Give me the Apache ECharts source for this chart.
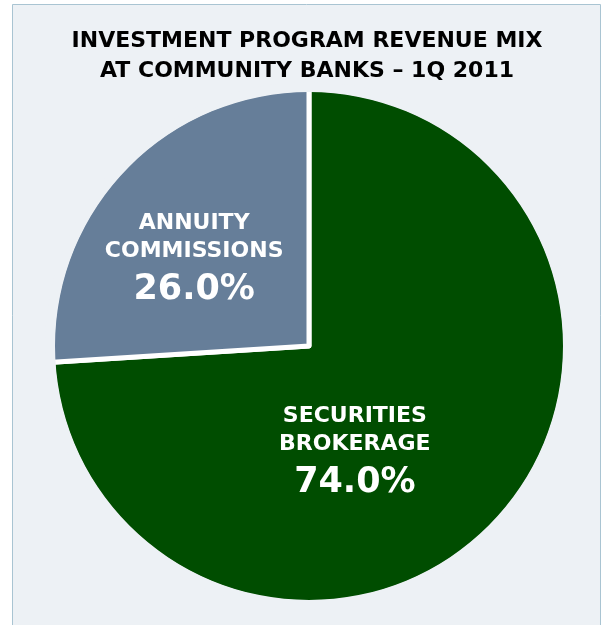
<!DOCTYPE html>
<html>
<head>
<meta charset="utf-8">
<script src="https://cdn.jsdelivr.net/npm/echarts@6/dist/echarts.min.js"></script>
<style>
  html, body { margin: 0; padding: 0; background: #fff; }
  #main { width: 602px; height: 625px; }
</style>
</head>
<body>
<div id="main"></div>
<script>
// revenue mix, 1Q 2011
const categories = ["Securities Brokerage", "Annuity Commissions"];
const shares = [74.0, 26.0];
const sliceColors = ["#004d00", "#667e99"];
// nudge labels to where the original put them
const labelOffsets = [[-50, 19], [-19, 6]];

const panelBg = "#edf1f5";

const chart = echarts.init(document.getElementById("main"), null, { renderer: "canvas" });

const option = {
  backgroundColor: "#ffffff",
  graphic: [{
    type: "rect",
    shape: { x: 12.5, y: 4.5, width: 588, height: 640 },
    style: { fill: panelBg, stroke: "#a9c4d2", lineWidth: 1 },
    z: -10
  }],
  title: {
    text: "INVESTMENT PROGRAM REVENUE MIX\nAT COMMUNITY BANKS \u2013 1Q 2011",
    left: 307,
    top: 26,
    padding: 0,
    textAlign: "center",
    textStyle: {
      fontFamily: "DejaVu Sans",
      fontWeight: "bold",
      fontSize: 22,
      lineHeight: 30,
      color: "#000"
    }
  },
  series: [{
    type: "pie",
    center: [309, 346],
    radius: [0, 257],
    startAngle: 90,
    clockwise: true,
    silent: true,
    itemStyle: { borderColor: "#ffffff", borderWidth: 5 },
    label: {
      show: true,
      position: "inside",
      color: "#fff",
      fontFamily: "DejaVu Sans",
      fontWeight: "bold",
      formatter: p => p.name.toUpperCase().split(" ").map(w => "{n|" + w + "}").join("\n")
        + "\n{v|" + p.value.toFixed(1) + "%}",
      rich: {
        n: { fontFamily: "DejaVu Sans", fontWeight: "bold", fontSize: 22, lineHeight: 28, color: "#fff" },
        v: { fontFamily: "DejaVu Sans", fontWeight: "bold", fontSize: 35, lineHeight: 50, color: "#fff" }
      }
    },
    labelLine: { show: false },
    data: categories.map((c, i) => ({
      name: c,
      value: shares[i],
      itemStyle: { color: sliceColors[i] },
      label: { offset: labelOffsets[i] }
    }))
  }, {
    // hides the white outer rim the slice border leaves
    type: "pie",
    center: [309, 346],
    radius: [254, 264],
    silent: true,
    label: { show: false },
    labelLine: { show: false },
    itemStyle: { color: panelBg, borderWidth: 0 },
    data: [{ name: "rim", value: 1 }],
    z: 3
  }]
};

chart.setOption(option);
</script>
</body>
</html>
